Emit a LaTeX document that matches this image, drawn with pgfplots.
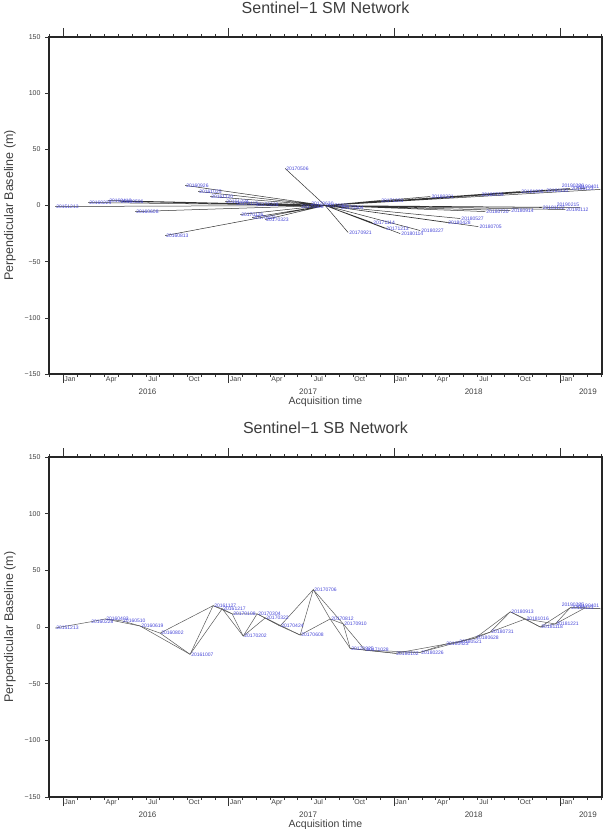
\documentclass[border=0pt]{standalone}
\usepackage{fontspec}
\setmainfont{Liberation Sans}
\usepackage{pgfplots}
\pgfplotsset{compat=1.18}
\definecolor{lbl}{RGB}{70,70,215}
\definecolor{tgray}{RGB}{60,60,60}

\pgfplotsset{
  insar/.style={
    scale only axis, width=553pt,
    xmin=2015.915, xmax=2019.255, ymin=-150, ymax=150,
    clip mode=individual,
    axis line style={line width=1.1pt, black!85},
    tick align=outside,
    major tick length=9pt, minor tick length=3pt,
    tick style={black!80, line width=0.5pt},
    ytick=\empty,
    extra y ticks={-150,-100,-50,0,50,100,150},
    extra y tick labels={−150,−100,−50,0,50,100,150},
    extra y tick style={major tick length=4pt, ytick pos=left},
    ytick pos=left,
    xtick={2016,2017,2018,2019}, xticklabels={,,,},
    minor xtick={2015.9167,2016.0833,2016.1667,2016.25,2016.3333,2016.4167,2016.5,2016.5833,2016.6667,2016.75,2016.8333,2016.9167,
      2017.0833,2017.1667,2017.25,2017.3333,2017.4167,2017.5,2017.5833,2017.6667,2017.75,2017.8333,2017.9167,
      2018.0833,2018.1667,2018.25,2018.3333,2018.4167,2018.5,2018.5833,2018.6667,2018.75,2018.8333,2018.9167,
      2019.0833,2019.1667,2019.25},
    extra x ticks={2016.0417,2016.2917,2016.5417,2016.7917,2017.0417,2017.2917,2017.5417,2017.7917,2018.0417,2018.2917,2018.5417,2018.7917,2019.0417},
    extra x tick labels={Jan,Apr,Jul,Oct,Jan,Apr,Jul,Oct,Jan,Apr,Jul,Oct,Jan},
    extra x tick style={major tick length=0pt, xtick pos=bottom},
    tick label style={font=\fontsize{7}{8}\selectfont, text=black!75},
    yticklabel style={xshift=-1pt},
    xticklabel style={yshift=1pt},
    title style={at={(axis description cs:0.5,1)}, anchor=center, yshift=23pt, font=\fontsize{16}{18}\selectfont, text=tgray},
    xlabel={Acquisition time},
    xlabel style={at={(axis description cs:0.5,0)}, anchor=center, yshift=-28pt, font=\fontsize{10.5}{12}\selectfont, text=black!75},
    ylabel={Perpendicular Baseline (m)},
    ylabel style={at={(axis description cs:-0.0705,0.5)}, anchor=center, font=\fontsize{12.5}{14}\selectfont, text=black!75},
  },
  netline/.style={black!80, line width=0.5pt, unbounded coords=jump, mark=none},
  netlbl/.style={draw=none, mark=none, nodes near coords, point meta=explicit symbolic,
    nodes near coords style={anchor=west, font=\fontsize{5}{5}\selectfont, text=lbl, inner sep=1pt}},
  netlblL/.style={draw=none, mark=none, nodes near coords, point meta=explicit symbolic,
    nodes near coords style={anchor=south east, font=\fontsize{5}{5}\selectfont, text=lbl, inner sep=1pt}},
}

\newcommand{\yearlabels}{%
  \node[font=\fontsize{8}{9}\selectfont, text=black!75] at (axis cs:2016.51,-150) [yshift=-18pt] {2016};
  \node[font=\fontsize{8}{9}\selectfont, text=black!75] at (axis cs:2017.48,-150) [yshift=-18pt] {2017};
  \node[font=\fontsize{8}{9}\selectfont, text=black!75] at (axis cs:2018.48,-150) [yshift=-18pt] {2018};
  \node[font=\fontsize{8}{9}\selectfont, text=black!75] at (axis cs:2019.17,-150) [yshift=-18pt] {2019};
}

\begin{document}
\begin{tikzpicture}
% ---------------- Single master network ----------------
\begin{axis}[insar, name=top, at={(0,0)}, anchor=north west, height=337pt,
  title={Sentinel−1 SM Network}]
\addplot[netline] table {
x y
2017.583 0
2015.952 -0.9
nan nan
2017.583 0
2016.151 2.7
nan nan
2017.583 0
2016.272 4.5
nan nan
2017.583 0
2016.344 3.6
nan nan
2017.583 0
2016.435 -5.4
nan nan
2017.583 0
2016.616 -26.8
nan nan
2017.583 0
2016.737 17.9
nan nan
2017.583 0
2016.816 12.5
nan nan
2017.583 0
2016.888 8.0
nan nan
2017.583 0
2016.979 3.6
nan nan
2017.583 0
2017.069 -8.0
nan nan
2017.583 0
2017.142 -10.7
nan nan
2017.583 0
2017.221 -12.5
nan nan
2017.583 0
2017.039 1.8
nan nan
2017.583 0
2017.160 0.9
nan nan
2017.583 0
2017.341 33.0
nan nan
2017.583 0
2017.432 -0.9
nan nan
2017.583 0
2017.492 1.8
nan nan
2017.583 0
2017.674 -1.8
nan nan
2017.583 0
2017.722 -24.1
nan nan
2017.583 0
2017.867 -15.2
nan nan
2017.583 0
2017.946 -20.5
nan nan
2017.583 0
2018.036 -25.0
nan nan
2017.583 0
2018.157 -22.3
nan nan
2017.583 0
2018.320 -15.2
nan nan
2017.583 0
2018.399 -11.6
nan nan
2017.583 0
2018.508 -18.8
nan nan
2017.583 0
2018.550 -5.4
nan nan
2017.583 0
2018.701 -4.5
nan nan
2017.583 0
2018.890 -1.8
nan nan
2017.583 0
2019.033 -3.6
nan nan
2017.583 0
2019.124 -1.8
nan nan
2017.583 0
2017.915 4.5
nan nan
2017.583 0
2018.218 8.0
nan nan
2017.583 0
2018.520 9.8
nan nan
2017.583 0
2018.761 12.5
nan nan
2017.583 0
2018.912 13.4
nan nan
2017.583 0
2019.063 15.2
nan nan
2017.583 0
2019.154 15.2
nan nan
2017.583 0
2019.245 14.3
};
\addplot[netlbl] table[meta=d] {
x y d
2015.952 -0.9 20151213
2016.151 2.7 20160225
2016.272 4.5 20160410
2016.344 3.6 20160506
2016.435 -5.4 20160608
2016.616 -26.8 20160813
2016.737 17.9 20160926
2016.816 12.5 20161025
2016.888 8.0 20161120
2016.979 3.6 20161224
2017.069 -8.0 20170126
2017.142 -10.7 20170222
2017.221 -12.5 20170323
2017.039 1.8 20170115
2017.160 0.9 20170228
2017.341 33.0 20170506
2017.432 -0.9 20170608
2017.492 1.8 20170630
2017.583 0 20170802
2017.674 -1.8 20170904
2017.722 -24.1 20170921
2017.867 -15.2 20171114
2017.946 -20.5 20171213
2018.036 -25.0 20180114
2018.157 -22.3 20180227
2018.320 -15.2 20180428
2018.399 -11.6 20180527
2018.508 -18.8 20180705
2018.550 -5.4 20180720
2018.701 -4.5 20180914
2018.890 -1.8 20181122
2019.033 -3.6 20190112
2017.915 4.5 20171201
2018.218 8.0 20180321
2018.520 9.8 20180709
2018.761 12.5 20181005
2018.912 13.4 20181130
2019.063 15.2 20190123
};
\addplot[netlblL] table[meta=d] {
x y d
2019.124 -1.8 20190215
2019.154 15.2 20190226
2019.245 14.3 20190401
};
\yearlabels
\end{axis}

% ---------------- Small baseline network ----------------
\begin{axis}[insar, name=bot, at={(0,-420pt)}, anchor=north west, height=340pt,
  title={Sentinel−1 SB Network}]
% consecutive links
\addplot[netline, black!65] table {
x y
2015.952 -0.9
2016.163 4.5
2016.254 7.1
2016.356 5.4
2016.465 0.9
2016.586 -5.4
2016.767 -24.1
2016.906 18.8
2016.961 16.1
2017.021 11.6
2017.088 -8.0
2017.172 11.6
2017.221 8.0
2017.311 0.9
2017.432 -7.1
2017.511 33.0
2017.613 7.1
2017.692 2.7
2017.734 -18.8
2017.825 -20.5
2018.006 -23.2
2018.157 -22.3
2018.308 -15.2
2018.387 -13.4
2018.489 -9.8
2018.580 -4.5
2018.701 13.4
2018.792 7.1
2018.882 0
2018.973 2.7
2019.063 17.0
2019.154 17.0
2019.245 16.1
};
% second-neighbour links
\addplot[netline, black!65] table {
x y
2016.465 0.9
2016.767 -24.1
2016.961 16.1
2017.088 -8.0
2017.221 8.0
2017.432 -7.1
2017.613 7.1
2017.734 -18.8
2018.006 -23.2
2018.308 -15.2
2018.489 -9.8
2018.701 13.4
2018.882 0
2019.063 17.0
2019.245 16.1
};
\addplot[netline, black!65] table {
x y
2016.254 7.1
2016.465 0.9
nan nan
2016.586 -5.4
2016.906 18.8
2017.021 11.6
2017.172 11.6
2017.311 0.9
2017.511 33.0
2017.692 2.7
2017.825 -20.5
2018.157 -22.3
2018.387 -13.4
2018.580 -4.5
2018.792 7.1
2018.973 2.7
2019.154 17.0
};
\addplot[netlbl] table[meta=d] {
x y d
2015.952 -0.9 20151213
2016.163 4.5 20160228
2016.254 7.1 20160403
2016.356 5.4 20160510
2016.465 0.9 20160619
2016.586 -5.4 20160802
2016.767 -24.1 20161007
2016.906 18.8 20161127
2016.961 16.1 20161217
2017.021 11.6 20170108
2017.088 -8.0 20170202
2017.172 11.6 20170304
2017.221 8.0 20170322
2017.311 0.9 20170424
2017.432 -7.1 20170608
2017.511 33.0 20170706
2017.613 7.1 20170812
2017.692 2.7 20170910
2017.734 -18.8 20170925
2017.825 -20.5 20171028
2018.006 -23.2 20180102
2018.157 -22.3 20180226
2018.308 -15.2 20180423
2018.387 -13.4 20180521
2018.489 -9.8 20180628
2018.580 -4.5 20180731
2018.701 13.4 20180913
2018.792 7.1 20181016
2018.882 0 20181118
2018.973 2.7 20181221
2019.063 17.0 20190123
};
\addplot[netlblL] table[meta=d] {
x y d
2019.154 17.0 20190225
2019.245 16.1 20190401
};
\yearlabels
\end{axis}
\pgfresetboundingbox
\path[use as bounding box] (-49pt,37pt) rectangle (554pt,-792pt);
\end{tikzpicture}
\end{document}
